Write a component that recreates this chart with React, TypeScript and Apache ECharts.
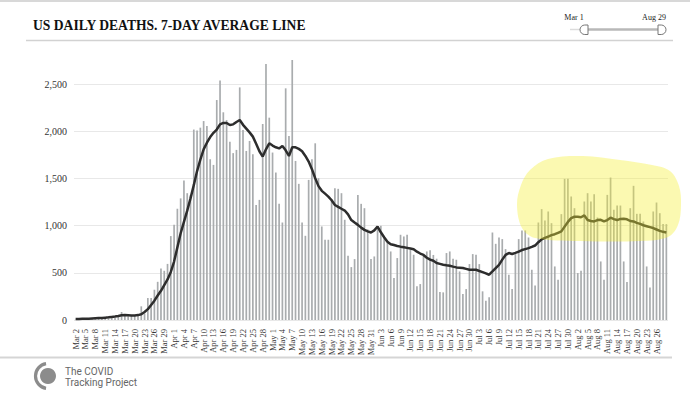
import React, { useEffect, useRef } from 'react';
import * as echarts from 'echarts';

const monthSpans: [string, number, number][] = [
  ['Mar', 2, 31], ['Apr', 1, 30], ['May', 1, 31], ['Jun', 1, 30], ['Jul', 1, 31], ['Aug', 1, 29],
];
const dates: string[] = [];
monthSpans.forEach(([m, a, b]) => { for (let d = a; d <= b; d++) dates.push(`${m} ${d}`); });

const dailyDeaths = [
  3, 5, 4, 6, 5, 8, 9, 11, 12, 14,
  18, 20, 24, 35, 85, 45, 40, 48, 52, 58,
  145, 70, 233, 233, 321, 405, 545, 522, 595, 890,
  1010, 1180, 1290, 1480, 1345, 1325, 2020, 2010, 2040, 2110,
  2058, 1705, 1645, 2333, 2540, 2203, 2120, 1890, 1770, 1804,
  2467, 2016, 1793, 1899, 1758, 1221, 1274, 2079, 2715, 2146,
  1776, 1564, 1232, 1034, 2457, 1952, 2757, 1687, 1444, 1034,
  893, 1486, 1705, 1874, 1504, 992, 851, 851, 1281, 1398,
  1391, 1345, 1063, 681, 561, 646, 1327, 1232, 1186, 960,
  646, 674, 992, 999, 875, 822, 727, 445, 657, 904,
  886, 904, 745, 692, 357, 381, 692, 727, 740, 690,
  650, 297, 293, 710, 727, 650, 639, 515, 275, 328,
  593, 699, 692, 593, 304, 205, 240, 928, 808, 875,
  858, 752, 480, 328, 699, 858, 950, 950, 875, 533,
  367, 1034, 1176, 1055, 1151, 1027, 568, 427, 1123, 1497,
  1497, 1310, 1186, 498, 522, 1257, 1345, 1257, 1334, 1087,
  621, 427, 1327, 1511, 1168, 1214, 1214, 621, 402, 1186,
  1423, 1126, 1126, 1045, 568, 346, 1151, 1246, 1133, 1017, 1017,
];

const sevenDayAverage = [
  10, 11, 12, 13, 14, 16, 18, 20, 22, 25,
  28, 32, 36, 42, 50, 52, 50, 48, 48, 52,
  60, 85, 115, 160, 205, 260, 310, 370, 430, 510,
  620, 770, 920, 1040, 1160, 1290, 1430, 1580, 1700, 1810,
  1880, 1940, 1985, 2020, 2075, 2090, 2090, 2068, 2075, 2100,
  2121, 2070, 2030, 1990, 1945, 1870, 1790, 1733, 1810, 1874,
  1850, 1832, 1820, 1846, 1800, 1740, 1832, 1832, 1815, 1790,
  1740, 1680, 1600, 1503, 1420, 1370, 1340, 1309, 1270, 1220,
  1200, 1180, 1161, 1120, 1060, 1034, 1009, 980, 956, 940,
  928, 950, 991, 930, 878, 830, 804, 795, 785, 778,
  772, 765, 758, 750, 725, 705, 690, 660, 640, 628,
  604, 595, 586, 580, 575, 566, 558, 555, 551, 542,
  533, 533, 533, 520, 508, 495, 480, 515, 551, 585,
  640, 690, 710, 700, 712, 725, 742, 752, 762, 775,
  790, 825, 855, 870, 885, 900, 910, 925, 940, 990,
  1040, 1080, 1095, 1095, 1090, 1110, 1060, 1050, 1045, 1060,
  1063, 1045, 1060, 1085, 1070, 1060, 1072, 1073, 1068, 1050,
  1045, 1030, 1020, 1005, 995, 985, 975, 960, 945, 935, 928,
];

const yMax = 2800;
const yInterval = 500;
const titleText = 'US DAILY DEATHS. 7-DAY AVERAGE LINE';
const rangeLabels = ['Mar 1', 'Aug 29'];
const logoLines = ['The COVID', 'Tracking Project'];

const SERIF = '"Liberation Serif", "Times New Roman", serif';

export default function App() {
  const ref = useRef<HTMLDivElement>(null);
  useEffect(() => {
    document.body.style.margin = '0';
    if (!ref.current) return;
    const chart = echarts.init(ref.current, undefined, { renderer: 'svg' });
    const lastIdx = dates.length - 1;
    const option: any = {
      animation: false,
      backgroundColor: '#fff',
      grid: { left: 74, right: 22, top: 56, bottom: 75 },
      xAxis: {
        type: 'category',
        data: dates,
        axisLine: { show: false },
        axisTick: { show: false },
        axisLabel: {
          interval: (idx: number) => idx % 3 === 0 && idx < lastIdx,
          rotate: 90,
          fontFamily: SERIF,
          fontSize: 8.5,
          color: '#333',
          margin: 9,
        },
      },
      yAxis: {
        type: 'value',
        min: 0,
        max: yMax,
        interval: yInterval,
        axisLine: { show: false },
        axisTick: { show: false },
        axisLabel: {
          showMaxLabel: false,
          formatter: (v: number) => (v > 2500 ? '' : v.toLocaleString('en-US')),
          fontFamily: SERIF,
          fontSize: 10,
          color: '#333',
          margin: 7,
        },
        splitLine: { showMaxLine: false, lineStyle: { color: '#e8e8e8', width: 1 } },
      },
      series: [
        {
          type: 'bar',
          data: dailyDeaths,
          barWidth: 1.7,
          itemStyle: { color: '#a9acae' },
        },
        {
          type: 'line',
          data: sevenDayAverage,
          symbol: 'none',
          showSymbol: false,
          lineStyle: { color: '#2d2d2d', width: 2.5 },
          z: 3,
        },
      ],
      graphic: [
        { type: 'line', shape: { x1: 0, y1: 1, x2: 690, y2: 1 }, style: { stroke: '#d8d8d8', lineWidth: 2 } },
        {
          type: 'text', x: 33, y: 25,
          style: { text: titleText, font: `bold 13.6px ${SERIF}`, fill: '#111', verticalAlign: 'middle' },
        },
        { type: 'line', shape: { x1: 26, y1: 40.5, x2: 673, y2: 40.5 }, style: { stroke: '#d2d2d2', lineWidth: 1.5 } },
        {
          type: 'text', x: 574, y: 17,
          style: { text: rangeLabels[0], font: `8px ${SERIF}`, fill: '#222', align: 'center', verticalAlign: 'middle' },
        },
        {
          type: 'text', x: 654, y: 17,
          style: { text: rangeLabels[1], font: `8px ${SERIF}`, fill: '#222', align: 'center', verticalAlign: 'middle' },
        },
        { type: 'line', shape: { x1: 570, y1: 29.5, x2: 583, y2: 29.5 }, style: { stroke: '#dcdcdc', lineWidth: 1.5 } },
        { type: 'line', shape: { x1: 586, y1: 29.5, x2: 659, y2: 29.5 }, style: { stroke: '#b8b8b8', lineWidth: 2.5 } },
        {
          type: 'rect', shape: { x: 580, y: 25, width: 8, height: 9.5, r: [5, 0, 0, 5] },
          style: { fill: '#fff', stroke: '#777', lineWidth: 1 },
        },
        {
          type: 'rect', shape: { x: 658, y: 25, width: 8, height: 9.5, r: [0, 5, 5, 0] },
          style: { fill: '#fff', stroke: '#777', lineWidth: 1 },
        },
        {
          type: 'polygon', z: 100,
          shape: {
            points: [
              [517, 205], [521, 185], [530, 170], [548, 159], [583, 156], [620, 160], [652, 165],
              [670, 171], [679, 186], [681, 205], [678, 225], [668, 237], [640, 241], [580, 241],
              [535, 238], [522, 228],
            ],
            smooth: 0.35,
          },
          style: { fill: 'rgba(245,238,50,0.38)' },
        },
        { type: 'line', shape: { x1: 0, y1: 357.5, x2: 672, y2: 357.5 }, style: { stroke: '#d5d5d5', lineWidth: 2 } },
        { type: 'circle', shape: { cx: 48, cy: 376, r: 8 }, style: { fill: '#8c8c8c' } },
        {
          type: 'arc', shape: { cx: 48, cy: 376, r: 12.5, startAngle: Math.PI * 0.55, endAngle: Math.PI * 1.45, clockwise: true },
          style: { stroke: '#8c8c8c', lineWidth: 3.2, fill: 'none' },
        },
        {
          type: 'text', x: 65, y: 371,
          style: { text: logoLines[0], font: '10px Roboto', fill: '#666', verticalAlign: 'middle' },
        },
        {
          type: 'text', x: 65, y: 382.5,
          style: { text: logoLines[1], font: '10px Roboto', fill: '#666', verticalAlign: 'middle' },
        },
      ],
    };
    chart.setOption(option);
    return () => chart.dispose();
  }, []);
  return <div ref={ref} style={{ width: 690, height: 395 }} />;
}
